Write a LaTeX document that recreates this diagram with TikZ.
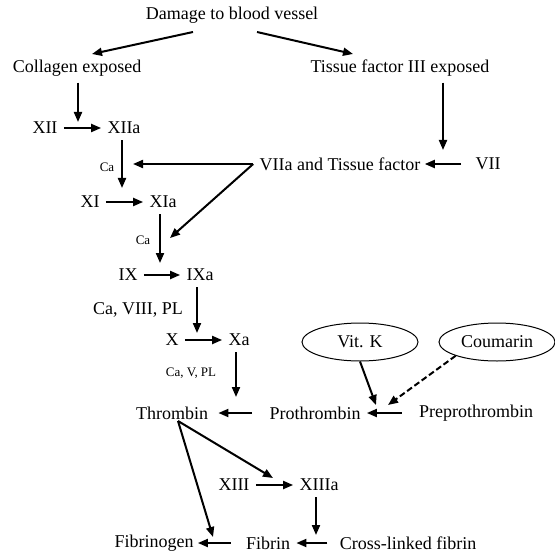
\documentclass[tikz,border=0pt]{standalone}
\usepackage{fontspec}
\setmainfont{Liberation Serif}
\usetikzlibrary{arrows.meta, shapes.geometric}

\tikzset{
  lbl/.style={inner sep=3pt, font=\fontsize{9}{10}\selectfont},
  sml/.style={inner sep=1pt, font=\fontsize{6.5}{7}\selectfont},
  oval/.style={draw, ellipse, line width=0.5pt, minimum width=58pt, minimum height=19pt, inner sep=0pt, font=\fontsize{9}{10}\selectfont},
  arr/.style={line width=1pt, -{Triangle[length=5pt,width=4pt]}},
}

\begin{document}
\begin{tikzpicture}[x=0.5pt,y=-0.5pt]
        \useasboundingbox (0,0) rectangle (554,555);
        \node[lbl] (dmg) at (232,15) {Damage to blood vessel};
        \node[lbl] (col) at (77,68) {Collagen exposed};
        \node[lbl] (tis) at (400,68) {Tissue factor III exposed};
        \node[lbl] (xii) at (45,128) {XII};
        \node[lbl] (xiia) at (124,128) {XIIa};
        \node[lbl] (viia) at (340,164) {VIIa and Tissue factor};
        \node[lbl] (vii) at (488,164) {VII};
        \node[sml] (ca1) at (107,167) {Ca};
        \node[lbl] (xi) at (90,202) {XI};
        \node[lbl] (xia) at (163,202) {XIa};
        \node[sml] (ca2) at (143,240) {Ca};
        \node[lbl] (ix) at (128,275) {IX};
        \node[lbl] (ixa) at (200,275) {IXa};
        \node[lbl] (ca3) at (138,310) {Ca, VIII, PL};
        \node[lbl] (x) at (172,340) {X};
        \node[lbl] (xa) at (239,340) {Xa};
        \node[sml] (ca4) at (191,373) {Ca, V, PL};
        \node[oval] (vitk) at (360,342) {Vit. K};
        \node[oval] (cou) at (497,342) {Coumarin};
        \node[lbl] (thr) at (172,413) {Thrombin};
        \node[lbl] (pro) at (315,413) {Prothrombin};
        \node[lbl] (pre) at (476,413) {Preprothrombin};
        \node[lbl] (xiii) at (234,485) {XIII};
        \node[lbl] (xiiia) at (319,485) {XIIIa};
        \node[lbl] (fgn) at (154,543) {Fibrinogen};
        \node[lbl] (fib) at (268,543) {Fibrin};
        \node[lbl] (cross) at (408,543) {Cross-linked fibrin};
        \coordinate (dmgl) at (193,32);
        \coordinate (dmgr) at (257,32);
        \coordinate (colin) at (92,54);
        \coordinate (tisin) at (353,54);
        \coordinate (colend) at (78,122);
        \coordinate (tisend) at (443,150);
        \coordinate (xiiaend) at (122,188);
        \coordinate (caend) at (133,164);
        \coordinate (diagend) at (170,238);
        \coordinate (xiaend) at (160,263);
        \coordinate (ixaend) at (197,333);
        \coordinate (xaend) at (236,397);
        \coordinate (vitkend) at (376,405);
        \coordinate (couend) at (388,405);
        \coordinate (throut) at (178,421);
        \coordinate (xiiiaend) at (273,478);
        \coordinate (fgnend) at (213,537);
        \coordinate (crossend) at (316,535);
        \draw[arr] (dmgl) -- (colin);
        \draw[arr] (dmgr) -- (tisin);
        \draw[arr] (col.south -| colend) -- (colend);
        \draw[arr] (tis.south -| tisend) -- (tisend);
        \draw[arr] (xii) -- (xiia);
        \draw[arr] (xiia.south -| xiiaend) -- (xiiaend);
        \draw[arr, shorten <=4pt, shorten >=-1pt] (vii) -- (viia);
        \draw[arr] (viia.west) -- (caend);
        \draw[arr] (viia.west) -- (diagend);
        \draw[arr] (xi) -- (xia);
        \draw[arr] (xia.south -| xiaend) -- (xiaend);
        \draw[arr] (ix) -- (ixa);
        \draw[arr] (ixa.south -| ixaend) -- (ixaend);
        \draw[arr] (x) -- (xa);
        \draw[arr] (xa.south -| xaend) -- (xaend);
        \draw[arr] (vitk.south) -- (vitkend);
        \draw[arr, dash pattern=on 3pt off 1.5pt] (cou.south west) -- (couend);
        \draw[arr, shorten <=5.5pt] (pre) -- (pro);
        \draw[arr, shorten <=5.5pt, shorten >=2pt] (pro) -- (thr);
        \draw[arr] (throut) -- (xiiiaend);
        \draw[arr] (throut) -- (fgnend);
        \draw[arr] (xiii) -- (xiiia);
        \draw[arr] (xiiia.south -| crossend) -- (crossend);
        \draw[arr, shorten <=3pt] (cross) -- (fib);
        \draw[arr, shorten <=4.5pt, shorten >=-1pt] (fib) -- (fgn);
\end{tikzpicture}
\end{document}
